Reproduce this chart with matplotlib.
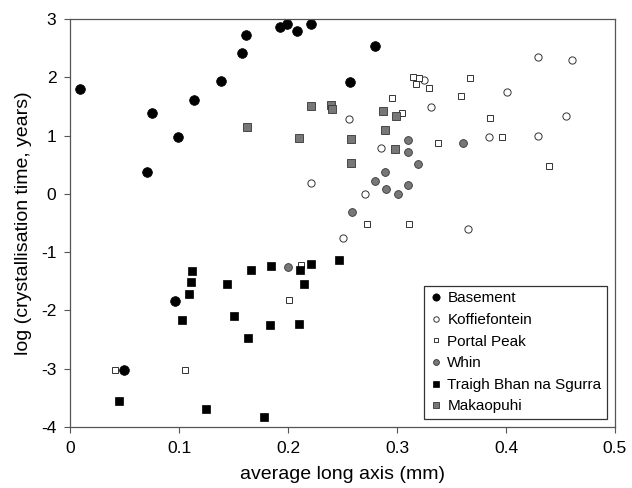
import matplotlib
matplotlib.use("Agg")
import matplotlib.pyplot as plt

plt.rcParams['font.family'] = ['Liberation Sans', 'DejaVu Sans']
plt.rcParams['axes.unicode_minus'] = False

# Basement
base_x = [0.009, 0.0755, 0.099, 0.0706, 0.114, 0.1385, 0.158, 0.1615, 0.1927, 0.199,
          0.2085, 0.2214, 0.2798, 0.257, 0.0963, 0.0498]
base_y = [1.80, 1.39, 0.98, 0.38, 1.61, 1.94, 2.42, 2.73, 2.87, 2.92,
          2.79, 2.92, 2.53, 1.92, -1.83, -3.02]

# Koffiefontein
koff_x = [0.4294, 0.461, 0.3248, 0.4006, 0.3309, 0.2557, 0.4547, 0.3847, 0.4294,
          0.2856, 0.2211, 0.2703, 0.2502, 0.3654]
koff_y = [2.34, 2.30, 1.95, 1.74, 1.49, 1.29, 1.33, 0.97, 1.00,
          0.78, 0.18, -0.01, -0.76, -0.61]

# Portal Peak
port_x = [0.315, 0.320, 0.317, 0.329, 0.367, 0.3587, 0.2955, 0.3046, 0.3856, 0.3963,
          0.338, 0.4397, 0.2725, 0.3107, 0.212, 0.2006, 0.0416, 0.1058]
port_y = [2.01, 1.99, 1.88, 1.82, 1.98, 1.68, 1.65, 1.39, 1.31, 0.98,
          0.87, 0.48, -0.51, -0.51, -1.22, -1.82, -3.03, -3.03]

# Whin
whin_x = [0.3098, 0.3608, 0.3101, 0.3195, 0.2893, 0.2798, 0.2902, 0.3006, 0.3104,
          0.259, 0.1997]
whin_y = [0.93, 0.88, 0.72, 0.52, 0.37, 0.22, 0.08, -0.01, 0.15,
          -0.31, -1.25]

# Traigh Bhan na Sgurra
tbs_x = [0.045, 0.1025, 0.1116, 0.111, 0.1089, 0.1245, 0.144, 0.1507, 0.1636, 0.166,
         0.1777, 0.1832, 0.1841, 0.2098, 0.211, 0.215, 0.2214, 0.2468]
tbs_y = [-3.55, -2.16, -1.33, -1.52, -1.72, -3.69, -1.54, -2.10, -2.48, -1.30,
         -3.83, -2.25, -1.24, -2.23, -1.31, -1.55, -1.20, -1.13]

# Makaopuhi
mak_x = [0.1624, 0.2104, 0.221, 0.2397, 0.2407, 0.2875, 0.299, 0.2887, 0.258, 0.2979, 0.258]
mak_y = [1.15, 0.966, 1.50, 1.53, 1.45, 1.42, 1.34, 1.09, 0.94, 0.77, 0.53]

gray = '#777777'
fig = plt.figure(figsize=(6.32, 4.88), dpi=100)
ax = fig.add_axes([0.111, 0.125, 0.862, 0.836])

ax.plot(base_x, base_y, 'o', ms=7, mfc='black', mec='black', mew=0.5, ls='none', label='Basement')
ax.plot(koff_x, koff_y, 'o', ms=5.2, mfc='white', mec='#333333', mew=0.7, ls='none', label='Koffiefontein')
ax.plot(port_x, port_y, 's', ms=4.6, mfc='white', mec='#333333', mew=0.7, ls='none', label='Portal Peak')
ax.plot(whin_x, whin_y, 'o', ms=5.6, mfc=gray, mec='#333333', mew=0.6, ls='none', label='Whin')
ax.plot(tbs_x, tbs_y, 's', ms=5.6, mfc='black', mec='black', mew=0.5, ls='none', label='Traigh Bhan na Sgurra')
ax.plot(mak_x, mak_y, 's', ms=5.2, mfc=gray, mec='#333333', mew=0.6, ls='none', label='Makaopuhi')

ax.set_xlim(0, 0.5)
ax.set_ylim(-4, 3)
ax.set_xticks([0, 0.1, 0.2, 0.3, 0.4, 0.5])
ax.set_xticklabels(['0', '0.1', '0.2', '0.3', '0.4', '0.5'])
ax.set_yticks(range(-4, 4))
ax.tick_params(direction='out', length=4, width=0.8, labelsize=12.5, color='#555555', pad=6)
for s in ax.spines.values():
    s.set_color('#555555')
    s.set_linewidth(0.9)

ax.set_xlabel('average long axis (mm)', fontsize=14, labelpad=7)
ax.set_ylabel('log (crystallisation time, years)', fontsize=14, labelpad=6)

leg = ax.legend(loc='lower right', bbox_to_anchor=(0.985, 0.02), fontsize=11,
                frameon=True, fancybox=False, edgecolor='black', handletextpad=0.35,
                handlelength=0.8, borderpad=0.35, labelspacing=0.5, markerscale=0.75,
                borderaxespad=0)
leg.get_frame().set_linewidth(0.9)

fig.savefig('out.png', dpi=100)
